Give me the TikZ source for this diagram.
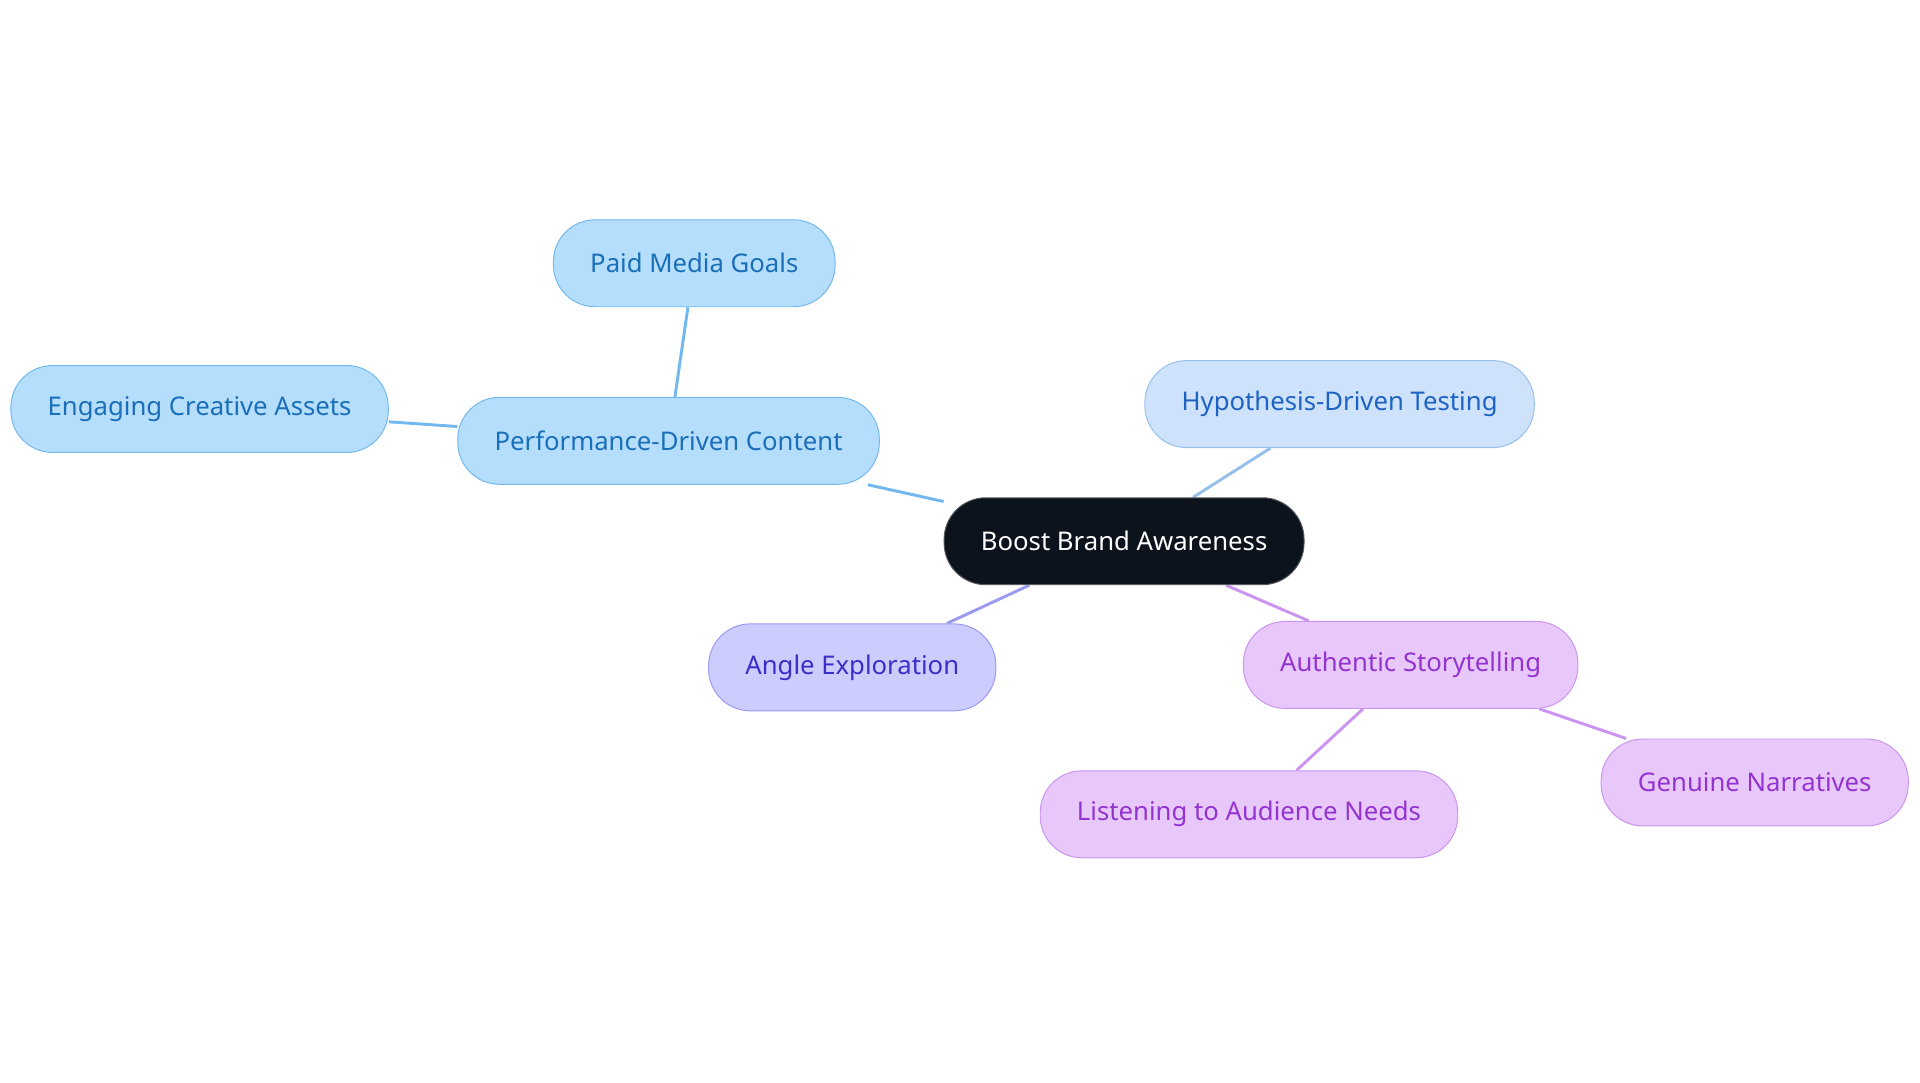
\documentclass[tikz,border=0pt]{standalone}
\usepackage{fontspec}
\setmainfont{Noto Sans}
\usepackage{xcolor}
\usetikzlibrary{backgrounds}

\definecolor{rootfill}{HTML}{0D131C}
\definecolor{bluefill}{HTML}{B5DEFD}
\definecolor{blueline}{HTML}{72B8EE}
\definecolor{bluetext}{HTML}{1A6FB8}
\definecolor{hypfill}{HTML}{CFE2FB}
\definecolor{hypline}{HTML}{96C0EC}
\definecolor{hyptext}{HTML}{1E63C4}
\definecolor{anglefill}{HTML}{CCCCFF}
\definecolor{angleline}{HTML}{9A9AF0}
\definecolor{angletext}{HTML}{3B2FC9}
\definecolor{storyfill}{HTML}{E8C8FB}
\definecolor{storyline}{HTML}{CB94F0}
\definecolor{storytext}{HTML}{9333D0}

\tikzset{
  topic/.style={rounded corners=17pt,minimum height=35.5pt,inner xsep=15pt,
    font=\fontsize{10.5}{12}\selectfont},
  roottopic/.style={topic,fill=rootfill,draw=rootfill!70,text=white},
  bluetopic/.style={topic,fill=bluefill,draw=blueline,text=bluetext},
  hyptopic/.style={topic,fill=hypfill,draw=hypline,text=hyptext},
  angletopic/.style={topic,fill=anglefill,draw=angleline,text=angletext},
  storytopic/.style={topic,fill=storyfill,draw=storyline,text=storytext},
  link/.style={line width=1.2pt}
}

\begin{document}
\begin{tikzpicture}[x=0.5pt,y=-0.5pt]
    \useasboundingbox (0,0) rectangle (1568,884);

    \node[roottopic]  (root)   at (918,442) {Boost Brand Awareness};
    \node[bluetopic]  (perf)   at (546,360) {Performance-Driven Content};
    \node[bluetopic]  (paid)   at (567,215) {Paid Media Goals};
    \node[bluetopic]  (assets) at (163,334) {Engaging Creative Assets};
    \node[hyptopic]   (hyp)    at (1094,330) {Hypothesis-Driven Testing};
    \node[angletopic] (angle)  at (696,545) {Angle Exploration};
    \node[storytopic] (story)  at (1152,543) {Authentic Storytelling};
    \node[storytopic] (listen) at (1020,665) {Listening to Audience Needs};
    \node[storytopic] (genu)   at (1433,639) {Genuine Narratives};

    \begin{scope}[on background layer]
    \draw[link,blueline] (root) -- (perf);
    \draw[link,blueline] (perf) -- (paid);
    \draw[link,blueline] (perf) -- (assets);
    \draw[link,hypline] (root) -- (hyp);
    \draw[link,angleline] (root) -- (angle);
    \draw[link,storyline] (root) -- (story);
    \draw[link,storyline] (story) -- (listen);
    \draw[link,storyline] (story) -- (genu);
    \end{scope}
\end{tikzpicture}
\end{document}
